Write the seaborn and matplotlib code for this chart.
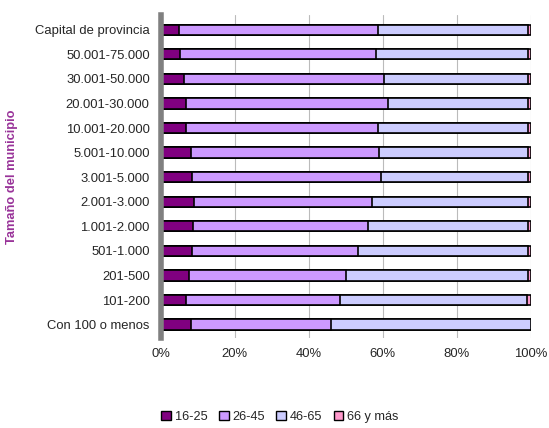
import pandas as pd
import seaborn as sns
import matplotlib.pyplot as plt
from matplotlib.patches import Patch
from matplotlib.ticker import PercentFormatter

# Datos (% por grupo de edad)
municipios = ['Capital de provincia', '50.001-75.000', '30.001-50.000', '20.001-30.000',
              '10.001-20.000', '5.001-10.000', '3.001-5.000', '2.001-3.000',
              '1.001-2.000', '501-1.000', '201-500', '101-200', 'Con 100 o menos']
edad_16_25 = [4.9, 5.1, 6.3, 6.9, 6.8, 8.1, 8.5, 9.0, 8.8, 8.3, 7.5, 6.8, 8.1]
edad_26_45 = [53.9, 53.1, 54.0, 54.5, 52.0, 50.8, 51.1, 48.0, 47.3, 45.0, 42.6, 41.6, 38.0]
edad_46_65 = [40.5, 41.1, 39.0, 37.9, 40.5, 40.4, 39.7, 42.3, 43.2, 46.0, 49.2, 50.6, 53.9]
edad_66_mas = [0.7, 0.7, 0.7, 0.7, 0.7, 0.7, 0.7, 0.7, 0.7, 0.7, 0.7, 1.0, 0.0]

series = ['16-25', '26-45', '46-65', '66 y más']
colores = ['#800080', '#CC99FF', '#CCCCFF', '#FF99CC']

data = pd.DataFrame({'Municipio': municipios, '16-25': edad_16_25, '26-45': edad_26_45,
                     '46-65': edad_46_65, '66 y más': edad_66_mas})
# normalizar a 100%
tot = data[series].sum(axis=1)
for s in series:
    data[s] = data[s] / tot * 100
acum = data[series].cumsum(axis=1)

sns.set_style('white')
plt.rcParams['font.family'] = ['Liberation Sans', 'DejaVu Sans']

fig = plt.figure(figsize=(5.49, 4.28), dpi=100)
ax = fig.add_axes([0.293, 0.21, 0.674, 0.755])

# barras apiladas: de la acumulada mayor a la menor
for s, c in reversed(list(zip(series, colores))):
    sns.barplot(x=acum[s], y=data['Municipio'], orient='h', color=c,
                edgecolor='black', linewidth=1.2, width=0.42, saturation=1, ax=ax)

ax.set_xlim(0, 100)
ax.set_ylim(12.55, -0.6)
ax.xaxis.set_major_formatter(PercentFormatter(decimals=0))
ax.set_xticks([0, 20, 40, 60, 80, 100])
ax.grid(axis='x', color='#BBBBBB', linewidth=0.8)
ax.set_axisbelow(True)
for sp in ['top', 'right', 'bottom']:
    ax.spines[sp].set_visible(False)
ax.spines['left'].set_color('#808080')
ax.spines['left'].set_linewidth(4)
ax.tick_params(axis='y', length=5, color='#999999', labelsize=9.4, pad=3)
ax.tick_params(axis='x', length=0, labelsize=9.4, pad=7)
ax.set_xlabel('')
ax.set_ylabel('Tamaño del municipio', fontsize=9.3, fontweight='bold', color='#993399', labelpad=12)

handles = [Patch(facecolor=c, edgecolor='black', label=s) for s, c in zip(series, colores)]
fig.legend(handles=handles, loc='lower center', bbox_to_anchor=(0.51, -0.015), ncol=4,
           frameon=False, fontsize=9.2, handlelength=0.75, handleheight=0.75,
           handletextpad=0.3, columnspacing=0.9)

plt.savefig('out.png', dpi=100)
